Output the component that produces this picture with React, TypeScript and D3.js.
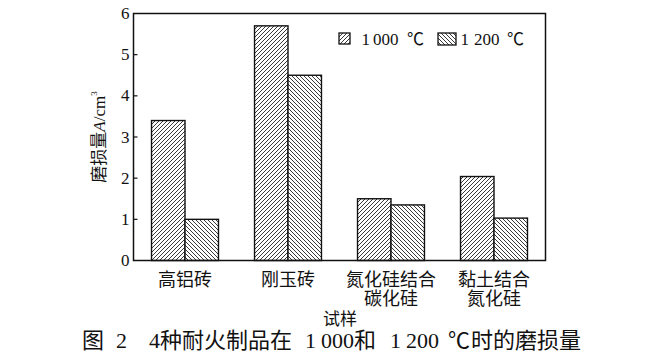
import React from "react";
import * as d3 from "d3";

const categories = [["高铝砖"], ["刚玉砖"], ["氮化硅结合", "碳化硅"], ["黏土结合", "氮化硅"]];
const seriesNums = ["1", "000", "1", "200"];
const values1000 = [3.4, 5.7, 1.5, 2.04];
const values1200 = [1.0, 4.5, 1.35, 1.03];
const yTicks = [0, 1, 2, 3, 4, 5, 6];

const W = 650, H = 355;
const left = 133.5, right = 545.5, top = 13.5, bottom = 260.5;
const serif = "'Liberation Serif', 'DejaVu Serif', serif";
const cjk = "'Noto Sans CJK SC', sans-serif";

export default function App() {
  const x = d3.scaleBand<number>().domain(d3.range(categories.length)).range([left, right]).paddingInner(0.35).paddingOuter(0.175);
  const sub = d3.scaleBand<number>().domain([0, 1]).range([0, x.bandwidth()]);
  const y = d3.scaleLinear().domain([0, 6]).range([bottom, top]);
  const data = [values1000, values1200];
  const pats = ["hatchF", "hatchB"];
  return (
    <svg width={W} height={H} style={{ position: "absolute", left: 0, top: 0, background: "#fff" }}>
      <defs>
        <pattern id="hatchF" patternUnits="userSpaceOnUse" width={4} height={4}>
          <rect width={4} height={4} fill="#fff" />
          <path d="M-1,1 L1,-1 M0,4 L4,0 M3,5 L5,3" stroke="#222" strokeWidth={0.9} />
        </pattern>
        <pattern id="hatchB" patternUnits="userSpaceOnUse" width={4} height={4}>
          <rect width={4} height={4} fill="#fff" />
          <path d="M-1,3 L1,5 M0,0 L4,4 M3,-1 L5,1" stroke="#222" strokeWidth={0.9} />
        </pattern>
      </defs>
      {categories.map((c, i) =>
        data.map((vals, s) => (
          <rect
            key={`${i}-${s}`}
            x={(x(i) as number) + (sub(s) as number)}
            y={y(vals[i])}
            width={sub.bandwidth()}
            height={bottom - y(vals[i])}
            fill={`url(#${pats[s]})`}
            stroke="#111"
            strokeWidth={1.4}
          />
        ))
      )}
      <rect x={left} y={top} width={right - left} height={bottom - top} fill="none" stroke="#111" strokeWidth={1.5} />
      {yTicks.map((t) => (
        <g key={t}>
          {t > 0 && t < 6 && <line x1={left} x2={left + 4} y1={y(t)} y2={y(t)} stroke="#111" strokeWidth={1.2} />}
          <text x={left - 4} y={y(t)} dy="0.33em" textAnchor="end" fontFamily={serif} fontSize={17} fill="#111">{t}</text>
        </g>
      ))}
      <text transform={`translate(105,137) rotate(-90)`} textAnchor="middle" fontSize={17} fill="#111">
        <tspan fontFamily={cjk}>磨损量</tspan>
        <tspan fontFamily={serif} fontStyle="italic">A</tspan>
        <tspan fontFamily={serif}>/cm</tspan>
        <tspan fontFamily={serif} fontSize={9} dy={-8}>3</tspan>
      </text>
      {categories.map((c, i) => (
        <text key={i} textAnchor="middle" fontFamily={cjk} fontSize={18} fill="#111">
          {c.map((line, j) => (
            <tspan key={j} x={(x(i) as number) + x.bandwidth() / 2} y={286 + j * 19}>{line}</tspan>
          ))}
        </text>
      ))}
      <text x={340} y={325} textAnchor="middle" fontFamily={cjk} fontSize={17} fill="#111">试样</text>
      {/* legend */}
      <rect x={339} y={33} width={11} height={11} fill="url(#hatchF)" stroke="#111" strokeWidth={1.3} />
      <text y={45} fontSize={17} fill="#111">
        <tspan x={361.5} fontFamily={serif}>{seriesNums[0]}</tspan>
        <tspan x={373} fontFamily={serif}>{seriesNums[1]}</tspan>
        <tspan x={407} fontFamily={cjk}>℃</tspan>
      </text>
      <rect x={438} y={33} width={18} height={12} fill="url(#hatchB)" stroke="#111" strokeWidth={1.3} />
      <text y={45} fontSize={17} fill="#111">
        <tspan x={460.5} fontFamily={serif}>{seriesNums[2]}</tspan>
        <tspan x={474} fontFamily={serif}>{seriesNums[3]}</tspan>
        <tspan x={507} fontFamily={cjk}>℃</tspan>
      </text>
      {/* caption */}
      <text y={348} fontSize={22} fill="#111">
        <tspan x={82} fontFamily={cjk}>图</tspan>
        <tspan x={116} fontFamily={serif}>2</tspan>
        <tspan x={149} fontFamily={serif}>4</tspan>
        <tspan x={160} fontFamily={cjk}>种耐火制品在</tspan>
        <tspan x={305} fontFamily={serif}>1</tspan>
        <tspan x={321} fontFamily={serif}>000</tspan>
        <tspan x={354} fontFamily={cjk}>和</tspan>
        <tspan x={390} fontFamily={serif}>1</tspan>
        <tspan x={406} fontFamily={serif}>200</tspan>
        <tspan x={448} fontFamily={cjk}>℃</tspan>
        <tspan x={471} fontFamily={cjk}>时的磨损量</tspan>
      </text>
    </svg>
  );
}
